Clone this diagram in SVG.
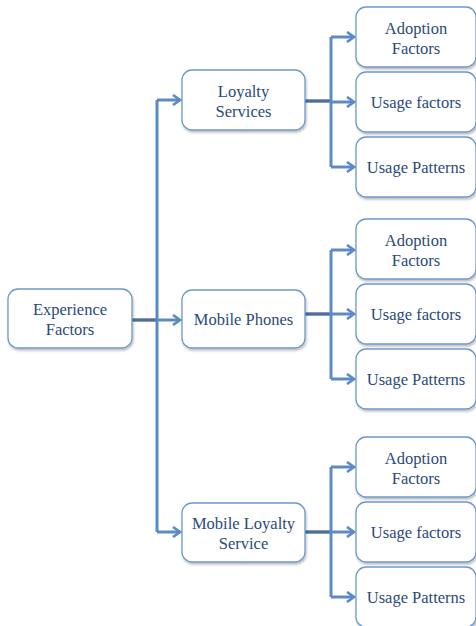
<svg xmlns="http://www.w3.org/2000/svg" width="476" height="626" viewBox="0 0 476 626">
<defs>
<filter id="sh" x="-10%" y="-10%" width="125%" height="130%">
<feDropShadow dx="1" dy="2" stdDeviation="1.2" flood-color="#000" flood-opacity="0.25"/>
</filter>
<marker id="ar" markerWidth="10" markerHeight="12" refX="8" refY="6" orient="auto" markerUnits="userSpaceOnUse">
<path d="M1,1 L8,6 L1,11" fill="none" stroke="#5b8ac4" stroke-width="2.6" stroke-linejoin="miter"/>
</marker>
</defs>
<style>
.box{fill:#fff;stroke:#6d98cc;stroke-width:1.3;filter:url(#sh)}
.t{font-family:'Liberation Serif',serif;font-size:16.5px;fill:#2b4a78;text-anchor:middle}
.c{fill:none;stroke:#5b8ac4;stroke-width:3}
.s{fill:none;stroke:#4f6f98;stroke-width:3.4}
</style>
<rect width="476" height="626" fill="#fff"/>
<g id="connectors">
<line class="s" x1="132" y1="320" x2="157" y2="320"/>
<path class="c" d="M157,100 V532"/>
<line class="c" x1="157" y1="100" x2="180" y2="100" marker-end="url(#ar)"/>
<line class="c" x1="157" y1="320" x2="180" y2="320" marker-end="url(#ar)"/>
<line class="c" x1="157" y1="532" x2="180" y2="532" marker-end="url(#ar)"/>
<line class="s" x1="305" y1="101" x2="331" y2="101"/>
<path class="c" d="M331,37 V167"/>
<line class="c" x1="331" y1="37" x2="354" y2="37" marker-end="url(#ar)"/>
<line class="c" x1="331" y1="102" x2="354" y2="102" marker-end="url(#ar)"/>
<line class="c" x1="331" y1="167" x2="354" y2="167" marker-end="url(#ar)"/>
<line class="s" x1="305" y1="314" x2="331" y2="314"/>
<path class="c" d="M331,250 V379"/>
<line class="c" x1="331" y1="250" x2="354" y2="250" marker-end="url(#ar)"/>
<line class="c" x1="331" y1="314" x2="354" y2="314" marker-end="url(#ar)"/>
<line class="c" x1="331" y1="379" x2="354" y2="379" marker-end="url(#ar)"/>
<line class="s" x1="305" y1="532" x2="331" y2="532"/>
<path class="c" d="M331,467 V597"/>
<line class="c" x1="331" y1="467" x2="354" y2="467" marker-end="url(#ar)"/>
<line class="c" x1="331" y1="532" x2="354" y2="532" marker-end="url(#ar)"/>
<line class="c" x1="331" y1="597" x2="354" y2="597" marker-end="url(#ar)"/>
</g>
<g id="experience"><rect class="box" x="8" y="289" width="124" height="59" rx="10"/><text class="t" x="70" y="315">Experience</text><text class="t" x="70" y="335">Factors</text></g>
<g id="loyalty"><rect class="box" x="182" y="70" width="123" height="60" rx="10"/><text class="t" x="243.5" y="97">Loyalty</text><text class="t" x="243.5" y="117">Services</text></g>
<g id="phones"><rect class="box" x="182" y="290" width="123" height="58" rx="10"/><text class="t" x="243.5" y="325">Mobile Phones</text></g>
<g id="mls"><rect class="box" x="182" y="503" width="123" height="59" rx="10"/><text class="t" x="243.5" y="529">Mobile Loyalty</text><text class="t" x="243.5" y="549">Service</text></g>
<g id="a1"><rect class="box" x="356" y="7" width="120" height="60" rx="10"/><text class="t" x="416" y="34">Adoption</text><text class="t" x="416" y="54">Factors</text></g>
<g id="u1"><rect class="box" x="356" y="72" width="120" height="60" rx="10"/><text class="t" x="416" y="108">Usage factors</text></g>
<g id="p1"><rect class="box" x="356" y="137" width="120" height="60" rx="10"/><text class="t" x="416" y="173">Usage Patterns</text></g>
<g id="a2"><rect class="box" x="356" y="219" width="120" height="60" rx="10"/><text class="t" x="416" y="246">Adoption</text><text class="t" x="416" y="266">Factors</text></g>
<g id="u2"><rect class="box" x="356" y="284" width="120" height="60" rx="10"/><text class="t" x="416" y="320">Usage factors</text></g>
<g id="p2"><rect class="box" x="356" y="349" width="120" height="60" rx="10"/><text class="t" x="416" y="385">Usage Patterns</text></g>
<g id="a3"><rect class="box" x="356" y="437" width="120" height="60" rx="10"/><text class="t" x="416" y="464">Adoption</text><text class="t" x="416" y="484">Factors</text></g>
<g id="u3"><rect class="box" x="356" y="502" width="120" height="60" rx="10"/><text class="t" x="416" y="538">Usage factors</text></g>
<g id="p3"><rect class="box" x="356" y="567" width="120" height="60" rx="10"/><text class="t" x="416" y="603">Usage Patterns</text></g>
</svg>
